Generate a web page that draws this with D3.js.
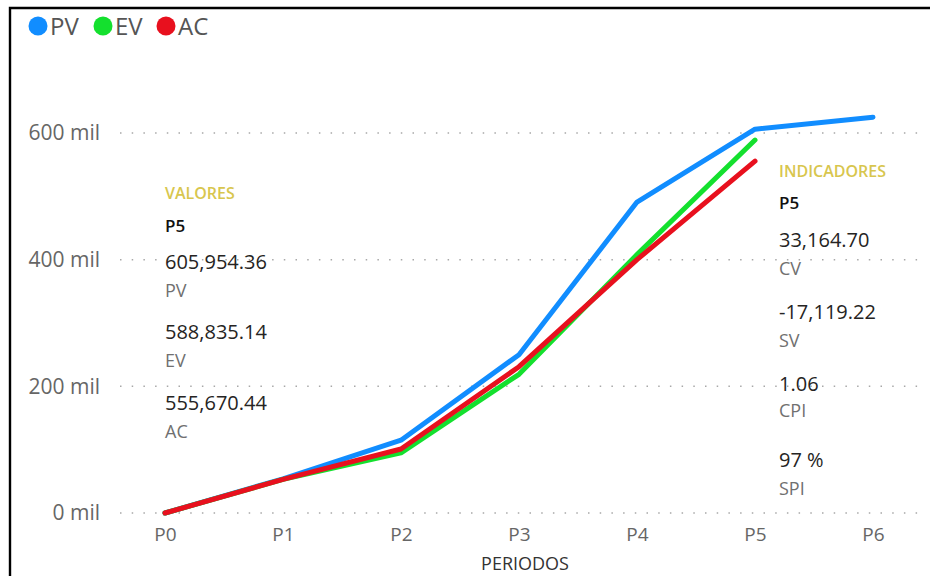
<!DOCTYPE html>
<html>
<head>
<meta charset="utf-8">
<script src="https://cdn.jsdelivr.net/npm/d3@7/dist/d3.min.js"></script>
<style>
  html, body { margin: 0; padding: 0; background: #fff; }
  svg { display: block; font-family: "Open Sans", "Noto Sans", sans-serif; }
</style>
</head>
<body>
<svg id="chart" width="930" height="576"></svg>
<script>
// Earned value curves per period
const periods = ["P0", "P1", "P2", "P3", "P4", "P5", "P6"];
const pv = [0, 54000, 115000, 250000, 491000, 605954.36, 625000];
const ev = [0, 53000, 95000, 219000, 408000, 588835.14];
const ac = [0, 53000, 101000, 231000, 400000, 555670.44];
const yTicks = [0, 200000, 400000, 600000];

// Side cards
const valores = [
  { value: "605,954.36", name: "PV" },
  { value: "588,835.14", name: "EV" },
  { value: "555,670.44", name: "AC" }
];
const indicadores = [
  { value: "33,164.70", name: "CV" },
  { value: "-17,119.22", name: "SV" },
  { value: "1.06", name: "CPI" },
  { value: "97 %", name: "SPI" }
];

const series = [
  { key: "PV", values: pv, color: "#118DFF" },
  { key: "EV", values: ev, color: "#14E02E" },
  { key: "AC", values: ac, color: "#E8101E" }
];

const svg = d3.select("#chart");

// frame
svg.append("path")
  .attr("d", "M10,600 L10,8 L935,8")
  .attr("fill", "none").attr("stroke", "#000").attr("stroke-width", 2.4);

const x = d3.scalePoint().domain(periods).range([165, 873]);
const y = d3.scaleLinear().domain([0, 600000]).range([513, 133]);

// gridlines
svg.append("g").selectAll("line").data(yTicks).join("line")
  .attr("x1", 120).attr("x2", 918)
  .attr("y1", d => y(d)).attr("y2", d => y(d))
  .attr("stroke", "#a8a8a8").attr("stroke-width", 1.5)
  .attr("stroke-dasharray", "1.5,10.2");

// y axis labels
const yAxis = svg.append("g").attr("transform", "translate(100,0)")
  .call(d3.axisLeft(y).tickValues(yTicks).tickSize(0).tickPadding(0)
    .tickFormat(d => (d / 1000) + " mil"));
yAxis.select(".domain").remove();
yAxis.selectAll("text").attr("font-size", 21).attr("fill", "#666")
  .attr("font-family", "'Open Sans', sans-serif");

// x axis labels
const xAxis = svg.append("g").attr("transform", "translate(0,527)")
  .call(d3.axisBottom(x).tickSize(0).tickPadding(0));
xAxis.select(".domain").remove();
xAxis.selectAll("text").attr("font-size", 19).attr("fill", "#666")
  .attr("font-family", "'Open Sans', sans-serif");

svg.append("text").attr("x", 525).attr("y", 570)
  .attr("text-anchor", "middle").attr("font-size", 18).attr("fill", "#333")
  .text("PERIODOS");

// lines
const line = d3.line().x((d, i) => x(periods[i])).y(d => y(d));
svg.append("g").selectAll("path").data(series).join("path")
  .attr("d", d => line(d.values))
  .attr("fill", "none")
  .attr("stroke", d => d.color)
  .attr("stroke-width", 5)
  .attr("stroke-linecap", "round")
  .attr("stroke-linejoin", "round");

// legend
const legend = svg.append("g");
const legendX = [38, 103, 166];
series.forEach((s, i) => {
  legend.append("circle").attr("cx", legendX[i]).attr("cy", 26).attr("r", 9.5).attr("fill", s.color);
  legend.append("text").attr("x", legendX[i] + 12).attr("y", 35)
    .attr("font-size", 24).attr("fill", "#555").text(s.key);
});

// cards
function card(x0, title, yTitle, yP5, items, yVals, yNames) {
  const g = svg.append("g");
  g.append("text").attr("x", x0).attr("y", yTitle).attr("font-size", 16)
    .attr("fill", "#D8C64E").attr("font-weight", 600).text(title);
  g.append("text").attr("x", x0).attr("y", yP5).attr("font-size", 17)
    .attr("fill", "#111").attr("font-weight", 600).text("P5");
  items.forEach((d, i) => {
    g.append("text").attr("x", x0).attr("y", yVals[i]).attr("font-size", 20)
      .attr("fill", "#252423").text(d.value);
    g.append("text").attr("x", x0).attr("y", yNames[i]).attr("font-size", 18)
      .attr("fill", "#707070").text(d.name);
  });
}
card(165, "VALORES", 199, 232, valores, [269, 339, 410], [297, 367, 438]);
card(779, "INDICADORES", 177, 209, indicadores, [247, 319, 391, 467], [275, 347, 417, 495]);
</script>
</body>
</html>
